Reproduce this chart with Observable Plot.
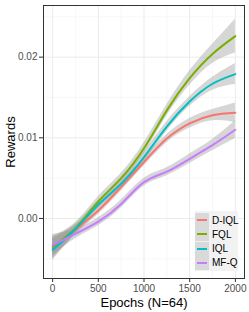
<!DOCTYPE html>
<html><head><meta charset="utf-8">
<script src="https://cdn.jsdelivr.net/npm/d3@7"></script>
<script src="https://cdn.jsdelivr.net/npm/@observablehq/plot@0.6"></script>
<style>
body{margin:0;background:#fff;font-family:"Liberation Sans",Arial,sans-serif;}
#wrap{position:relative;width:249px;height:312px;}
#legend{position:absolute;left:195px;top:211px;width:43px;height:60px;background:#f2f2f2;font-size:10px;color:#000;}
.row{position:absolute;left:0;height:14px;display:flex;align-items:center;white-space:nowrap;}
.key{width:14px;height:14px;background:#d9d9d9;position:relative;flex:none;}
.key span{position:absolute;left:2px;right:2px;top:6px;height:2px;}
.lab{margin-left:3px;}
</style></head>
<body><div id="wrap"><div id="chart"></div><div id="legend"></div></div>
<script>
const epochs = [0, 250, 500, 750, 1000, 1250, 1500, 1750, 2000];
const seriesNames = ["D-IQL", "FQL", "IQL", "MF-Q"];
const colors = ["#F8766D", "#7CAE00", "#00BFC4", "#C77CFF"];
const dIQL = [-0.0037, -0.0014, 0.0010, 0.0039, 0.0070, 0.0099, 0.0118, 0.0128, 0.0131];
const fql  = [-0.0035, -0.0012, 0.0021, 0.0050, 0.0087, 0.0134, 0.0174, 0.0204, 0.0226];
const iql  = [-0.0039, -0.0013, 0.0017, 0.0043, 0.0076, 0.0114, 0.0145, 0.0167, 0.0179];
const mfq  = [-0.0033, -0.0019, -0.0004, 0.0018, 0.0045, 0.0058, 0.0074, 0.0091, 0.0110];
const seDIQL = [0.0013, 0.0006, 0.0005, 0.0005, 0.0005, 0.0005, 0.0006, 0.0007, 0.0012];
const seFQL  = [0.0013, 0.0007, 0.0006, 0.0006, 0.0007, 0.0007, 0.0009, 0.0012, 0.0021];
const seIQL  = [0.0013, 0.0006, 0.0005, 0.0005, 0.0006, 0.0006, 0.0006, 0.0008, 0.0013];
const seMFQ  = [0.0013, 0.0006, 0.0005, 0.0005, 0.0005, 0.0005, 0.0006, 0.0007, 0.0011];
const xTicks = [0, 500, 1000, 1500, 2000];
const xMinor = [250, 750, 1250, 1750];
const yTicks = [0, 0.01, 0.02];
const yMinor = [-0.005, 0.005, 0.015, 0.025];
const xTitle = "Epochs (N=64)";
const yTitle = "Rewards";

const vals = [dIQL, fql, iql, mfq];
const ses = [seDIQL, seFQL, seIQL, seMFQ];
const rows = [];
seriesNames.forEach((s, i) => epochs.forEach((e, j) => rows.push({series: s, x: e, y: vals[i][j], lo: vals[i][j] - ses[i][j], hi: vals[i][j] + ses[i][j]})));

const plot = Plot.plot({
  width: 249, height: 312,
  marginLeft: 43, marginTop: 5, marginRight: 5, marginBottom: 34,
  style: {fontFamily: "Liberation Sans, Arial, sans-serif", background: "#fff"},
  x: {domain: [-100, 2100]},
  y: {domain: [-0.00744, 0.0264]},
  color: {domain: seriesNames, range: colors},
  marks: [
    Plot.ruleX(xMinor, {stroke: "#f2f2f2", strokeWidth: 0.6}),
    Plot.ruleY(yMinor, {stroke: "#f2f2f2", strokeWidth: 0.6}),
    Plot.ruleX(xTicks, {stroke: "#ebebeb", strokeWidth: 1}),
    Plot.ruleY(yTicks, {stroke: "#ebebeb", strokeWidth: 1}),
    Plot.areaY(rows, {x: "x", y1: "lo", y2: "hi", z: "series", fill: "#999999", fillOpacity: 0.4, curve: "natural"}),
    Plot.line(rows, {x: "x", y: "y", z: "series", stroke: "series", strokeWidth: 2, curve: "natural"}),
    Plot.frame({stroke: "#333", strokeWidth: 1}),
    Plot.axisX({ticks: xTicks, tickSize: 4, fontSize: 10, color: "#4d4d4d", stroke: "#333", tickPadding: 2, tickFormat: d3.format("d"), label: null}),
    Plot.axisY({ticks: yTicks, tickSize: 4, fontSize: 10, color: "#4d4d4d", stroke: "#333", tickPadding: 2, tickFormat: d3.format(".2f"), label: null}),
    Plot.text([xTitle], {frameAnchor: "bottom", textAnchor: "middle", lineAnchor: "middle", dy: 24, fontSize: 13, fill: "#000"}),
    Plot.text([yTitle], {frameAnchor: "left", textAnchor: "middle", lineAnchor: "middle", rotate: -90, dx: -33, fontSize: 13, fill: "#000"})
  ]
});
document.getElementById("chart").appendChild(plot);

const leg = document.getElementById("legend");
seriesNames.forEach((s, i) => {
  const r = document.createElement("div");
  r.className = "row";
  r.style.top = (2 + i * 14.3) + "px";
  r.innerHTML = `<div class="key"><span style="background:${colors[i]}"></span></div><div class="lab">${s}</div>`;
  leg.appendChild(r);
});
</script></body></html>
